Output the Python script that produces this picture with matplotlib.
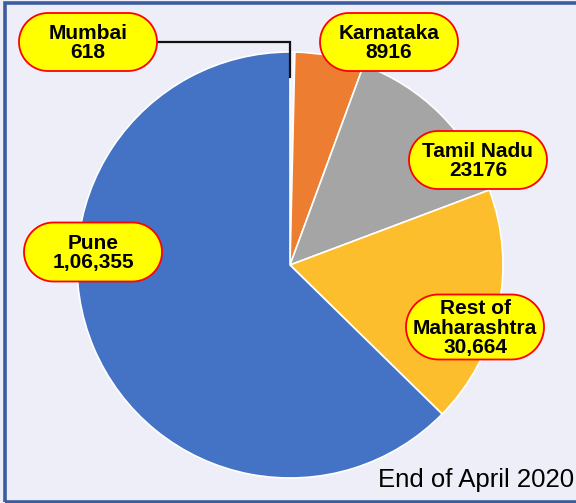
import numpy as np
import matplotlib.pyplot as plt
from matplotlib.patches import Polygon, Rectangle

# ── data ─────────────────────────────────────────────────────────────
regions = ["Mumbai", "Karnataka", "Tamil Nadu", "Rest of\nMaharashtra", "Pune"]
cases = [618, 8916, 23176, 30664, 106355]
value_labels = ["618", "8916", "23176", "30,664", "1,06,355"]
colors = ["#F4F4FB", "#ED7D31", "#A5A5A5", "#FDBE2E", "#4472C4"]

# label box centres in pixel space (origin top-left), sizes w x h
W, H = 576, 503
boxes = [(88, 42, 138, 58), (389, 42, 138, 58), (478, 160, 138, 58),
         (475, 327, 138, 65), (93, 252, 138, 59)]

BG = "#EEEEF8"


def pill(cx, cy, w, h):
    # stadium outline: straight top/bottom, semicircular ends
    r = h / 2
    t = np.linspace(-np.pi / 2, np.pi / 2, 40)
    right = np.column_stack([cx + w / 2 - r + r * np.cos(t), cy + r * np.sin(t)])
    left = np.column_stack([cx - w / 2 + r - r * np.cos(t), cy - r * np.sin(t)])
    return np.vstack([right, left])


plt.rcParams["font.family"] = ["Liberation Sans", "DejaVu Sans"]

fig = plt.figure(figsize=(W / 100, H / 100), dpi=100, facecolor=BG)
ax = fig.add_axes([0, 0, 1, 1])
ax.axis("off")

ax.pie(cases, colors=colors, startangle=90, counterclock=False,
       center=(290, H - 265), radius=213,
       wedgeprops=dict(edgecolor="white", linewidth=1.2))
ax.set_xlim(0, W)
ax.set_ylim(0, H)
ax.set_aspect("equal")

# leader line for the tiny Mumbai slice
ax.plot([157, 290, 290], [H - 42, H - 42, H - 77], color="#111111", lw=1.6,
        solid_joinstyle="miter", zorder=3)

for name, val, (cx, cy, bw, bh) in zip(regions, value_labels, boxes):
    y = H - cy
    ax.add_patch(Polygon(pill(cx, y, bw, bh), closed=True,
                         facecolor="#FFFF00", edgecolor="#FF0000",
                         linewidth=1.3, zorder=4))
    ax.text(cx, y - 1, f"{name}\n{val}", ha="center", va="center",
            fontsize=15, fontweight="bold", linespacing=1.0, zorder=5)

ax.text(574, H - 487, "End of April 2020", ha="right", va="baseline",
        fontsize=18.5, zorder=5)

# frame
fig.patches.append(Rectangle((5 / W, 1.5 / H), 1.1, 1 - 4 / H,
                             transform=fig.transFigure, fill=False,
                             edgecolor="#3D5C9E", linewidth=2.6))

fig.savefig("out.png", dpi=100, facecolor=BG)
